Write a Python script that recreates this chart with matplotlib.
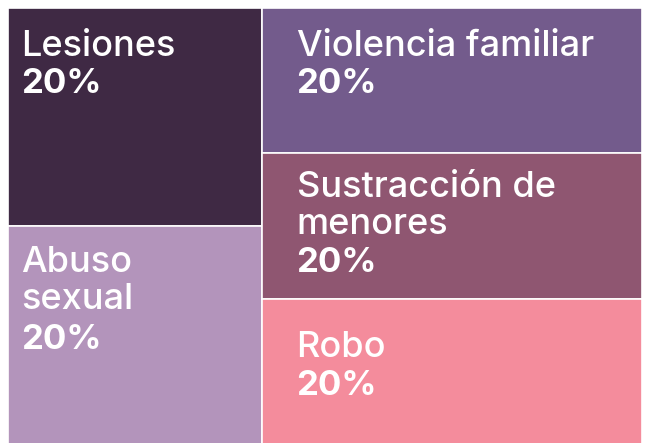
import matplotlib
matplotlib.use("Agg")
import matplotlib.pyplot as plt
from matplotlib.patches import Rectangle

labels = ["Lesiones", "Abuso\nsexual", "Violencia familiar", "Sustracción de\nmenores", "Robo"]
values = [20, 20, 20, 20, 20]
colors = ["#3f2944", "#b394bb", "#735b8c", "#8f5671", "#f48c9c"]

# text inset from each tile's top-left corner (x, first baseline), in pixels
insets = [(13, 48), (13, 46), (35, 48), (35, 44), (35, 58)]
# gap between last name line and the percentage baseline
pct_gap = [37, 40, 37, 38, 38]
LINE = 37

W, H = 647, 443
fig = plt.figure(figsize=(W / 100, H / 100), dpi=100)
ax = fig.add_axes([0, 0, 1, 1])
ax.set_xlim(0, W)
ax.set_ylim(H, 0)
ax.axis("off")

# treemap area
x0, y0, w, h = 8, 8, 634, 436
total = sum(values)

# two columns: first two items on the left, the rest stacked on the right
cols = [[0, 1], [2, 3, 4]]
x = x0
for col in cols:
    col_sum = sum(values[i] for i in col)
    cw = w * col_sum / total
    y = y0
    for i in col:
        rh = h * values[i] / col_sum
        ax.add_patch(Rectangle((x, y), cw, rh, facecolor=colors[i],
                               edgecolor="white", linewidth=1.2))
        dx, dy = insets[i]
        by = y + dy
        lines = labels[i].split("\n")
        for k, line in enumerate(lines):
            ax.text(x + dx, by, line, color="white", fontsize=26,
                    family="Inter", fontweight="medium", va="baseline", ha="left")
            if k < len(lines) - 1:
                by += LINE
        ax.text(x + dx, by + pct_gap[i], f"{values[i]}%", color="white",
                fontsize=25, family="Inter", fontweight="bold",
                va="baseline", ha="left")
        y += rh
    x += cw

fig.savefig("out.png", dpi=100)
